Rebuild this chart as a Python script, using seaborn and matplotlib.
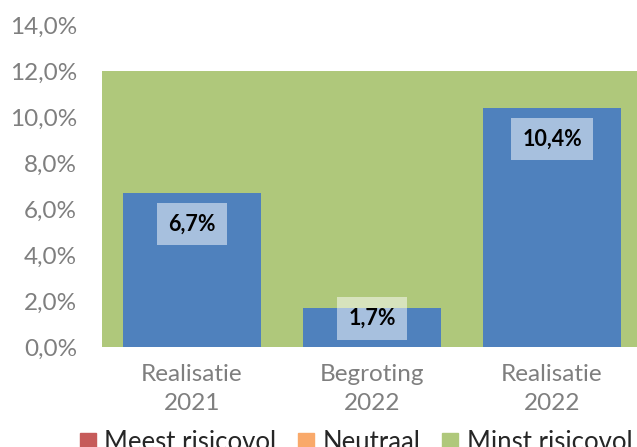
import matplotlib
matplotlib.use("Agg")
import matplotlib.pyplot as plt
from matplotlib.lines import Line2D
import seaborn as sns
import pandas as pd

categories = ["Realisatie\n2021", "Begroting\n2022", "Realisatie\n2022"]
values = [6.7, 1.7, 10.4]
band_names = ["Meest risicovol", "Neutraal", "Minst risicovol"]
band_heights = [0.0, 0.0, 12.0]
band_colors = ["#C65B5A", "#F9A96A", "#AFC87B"]
y_ticks = [0, 2, 4, 6, 8, 10, 12, 14]

sns.set_theme(style="white")
plt.rcParams["font.family"] = ["Lato", "DejaVu Sans"]

fig = plt.figure(figsize=(6.37, 4.47), dpi=100)
ax = fig.add_axes([102 / 637, 1 - 347 / 447, 540 / 637, (347 - 25) / 447])

# stacked risk bands behind the bars
bottom = 0.0
for h, c in zip(band_heights, band_colors):
    ax.fill_between([-0.5, 2.5], bottom, bottom + h, color=c, lw=0, zorder=0)
    bottom += h

df = pd.DataFrame({"cat": categories, "val": values})
sns.barplot(data=df, x="cat", y="val", color="#4F81BD", saturation=1,
            width=0.77, ax=ax, zorder=2, linewidth=0, edgecolor="none")

for i, v in enumerate(values):
    yc = max(v - 1.35, 1.25)
    ax.text(i, yc, f"{v:.1f}%".replace(".", ","), ha="center", va="center",
            fontsize=15.5, fontweight="bold", color="black", zorder=4,
            bbox=dict(boxstyle="square,pad=0.5", fc="white", ec="none", alpha=0.5))

ax.set_xlim(-0.5, 2.5)
ax.set_ylim(0, 14)
ax.set_yticks(y_ticks)
ax.set_yticklabels([f"{t:.1f}%".replace(".", ",") for t in y_ticks])
ax.set_xlabel("")
ax.set_ylabel("")
ax.tick_params(axis="y", colors="#7F7F7F", labelsize=17.5, length=0, pad=18)
ax.tick_params(axis="x", colors="#7F7F7F", labelsize=17.5, length=0, pad=12)
for lab in ax.get_xticklabels():
    lab.set_linespacing(1.5)
for s in ax.spines.values():
    s.set_visible(False)
ax.set_facecolor("none")

handles = [Line2D([], [], marker="s", ls="none", color=c, markersize=11.5)
           for c in band_colors]
fig.legend(handles, band_names, loc="center", bbox_to_anchor=(0.557, 0.010),
           ncol=3, frameon=False, fontsize=18.5, handletextpad=0.25,
           columnspacing=0.75, handlelength=0.8)

fig.savefig("out.png", dpi=100)
